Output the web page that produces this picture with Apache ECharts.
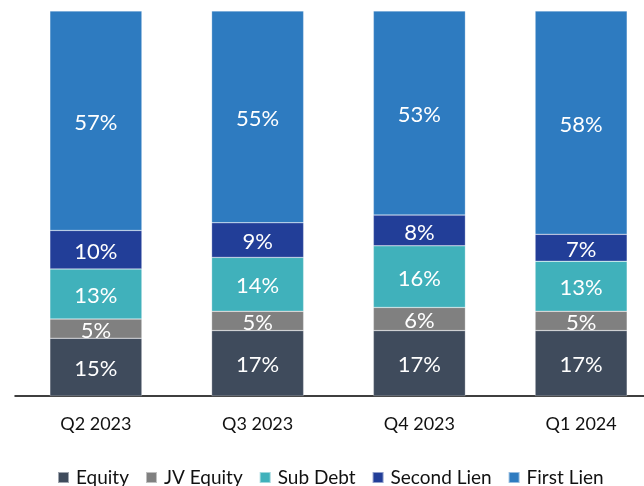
<!DOCTYPE html>
<html><head><meta charset="utf-8">
<script src="https://cdn.jsdelivr.net/npm/echarts@6/dist/echarts.min.js"></script>
<style>html,body{margin:0;padding:0;background:#fff}#c{width:644px;height:486px}</style>
</head><body><div id="c"></div>
<script>
const categories = ['Q2 2023','Q3 2023','Q4 2023','Q1 2024'];
const equity = [15,17,17,17];
const jvEquity = [5,5,6,5];
const subDebt = [13,14,16,13];
const secondLien = [10,9,8,7];
const firstLien = [57,55,53,58];
const seriesNames = ['Equity','JV Equity','Sub Debt','Second Lien','First Lien'];
const seriesColors = ['#3F4B5C','#808080','#40B1BB','#223E98','#2E7BC0'];
const seriesData = [equity, jvEquity, subDebt, secondLien, firstLien];
const FONT = 'Lato, "Open Sans", sans-serif';

const chart = echarts.init(document.getElementById('c'), null, {renderer:'canvas'});
chart.setOption({
  animation:false,
  textStyle:{fontFamily:FONT},
  grid:{left:15, width:647, top:11, bottom:90, containLabel:false, outerBoundsMode:'none'},
  legend:{
    top:463, left:52, itemWidth:11, itemHeight:11, itemGap:16,
    icon:'rect',
    textStyle:{fontFamily:FONT, fontSize:19, color:'#111', padding:[0,0,0,2]},
    data: seriesNames
  },
  xAxis:{
    type:'category', data:categories,
    axisLine:{lineStyle:{color:'#000', width:1.5}},
    axisTick:{show:false},
    axisLabel:{fontFamily:FONT, fontSize:18, color:'#111', margin:19}
  },
  yAxis:{type:'value', min:0, max:100, show:false, splitLine:{show:false}},
  series: seriesNames.map((n,i)=>({
    name:n, type:'bar', stack:'total', barWidth:92,
    data: seriesData[i],
    itemStyle:{color:seriesColors[i], borderColor:'rgba(255,255,255,0.5)', borderWidth:0.5},
    label:{show:true, position:'inside', color:'#fff', fontFamily:FONT, fontSize:22,
      offset:[0,2], formatter: p => p.value + '%'}
  }))
});
</script></body></html>
